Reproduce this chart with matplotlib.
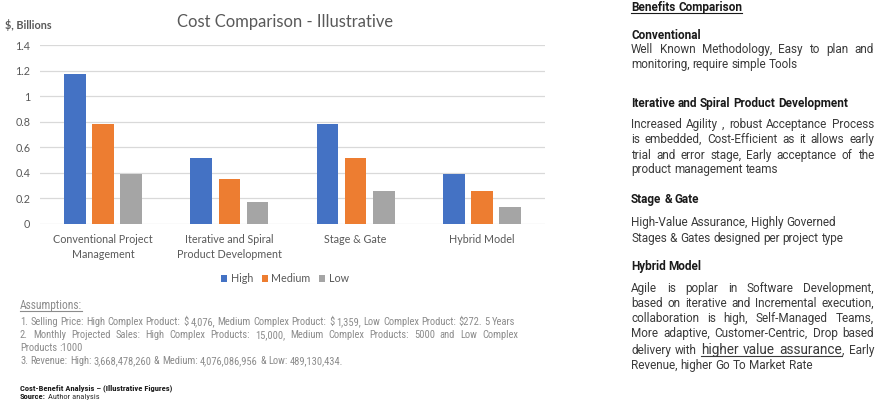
import matplotlib
matplotlib.use("Agg")
import matplotlib.pyplot as plt
import numpy as np
from matplotlib.lines import Line2D
from matplotlib.patches import Patch
from matplotlib import font_manager

# ---------------- data ----------------
categories = ["Conventional Project\nManagement", "Iterative and Spiral\nProduct Development",
              "Stage & Gate", "Hybrid Model"]
series_names = ["High", "Medium", "Low"]
high = [1.17, 0.52, 0.78, 0.39]
medium = [0.78, 0.35, 0.52, 0.26]
low = [0.39, 0.17, 0.26, 0.13]
yticks = [0, 0.2, 0.4, 0.6, 0.8, 1.0, 1.2, 1.4]
ytick_labels = ["0", "0.2", "0.4", "0.6", "0.8", "1", "1.2", "1.4"]
title = "Cost Comparison - Illustrative"
ylabel = "$, Billions"

# ---------------- figure ----------------
W, H = 882, 405
fig = plt.figure(figsize=(W / 100, H / 100), dpi=100)
fig.patch.set_facecolor("white")
renderer = fig.canvas.get_renderer()

def fx(px):
    return px / W

def fy(py):
    return 1 - py / H

def text_width(s, size, family, weight="normal"):
    t = fig.text(0, 0, s, fontsize=size, family=family, weight=weight)
    w = t.get_window_extent(renderer).width
    t.remove()
    return w

def fit(s, target, family, weight="normal"):
    return 10 * target / text_width(s, 10, family, weight)

def first_font(names, default):
    for n in names:
        try:
            font_manager.findfont(font_manager.FontProperties(family=n),
                                  fallback_to_default=False)
            return n
        except Exception:
            pass
    return default

CH = "Lato"
GREY = "#595959"

ax = fig.add_axes([fx(40), fy(224), fx(505), 179 / H])
x = np.arange(len(categories))
colors = ["#4472C4", "#ED7D31", "#A5A5A5"]
bw = 0.172
off = 0.222
for i, (vals, name, c) in enumerate(zip([high, medium, low], series_names, colors)):
    ax.bar(x + (i - 1) * off, vals, bw, color=c, label=name, zorder=3)
ax.set_xlim(-0.5, len(categories) - 0.5)
ax.set_ylim(0, 1.4)
ax.set_yticks(yticks)
tick_size = fit("Conventional Project", 100, CH)
ax.set_yticklabels(ytick_labels, fontsize=tick_size, family=CH, color=GREY)
ax.set_xticks(x)
ax.set_xticklabels(categories, fontsize=tick_size, family=CH, color=GREY, linespacing=1.5)
ax.grid(axis="y", color="#D9D9D9", lw=0.9, zorder=0)
for s in ax.spines.values():
    s.set_visible(False)
ax.tick_params(length=0, pad=7)

fig.text(fx(285), fy(22), title, ha="center", va="center",
         fontsize=fit(title, 216, CH), family=CH, color=GREY)
fig.text(fx(5), fy(25), ylabel, ha="left", va="center",
         fontsize=fit(ylabel, 47, CH, "bold"), family=CH, weight="bold", color=GREY)

handles = [Patch(facecolor=c, label=n) for c, n in zip(colors, series_names)]
fig.legend(handles=handles, loc="center", bbox_to_anchor=(fx(285), fy(279)), ncol=3,
           frameon=False, prop={"family": CH, "size": tick_size},
           handlelength=0.55, handleheight=0.55, handletextpad=0.35, columnspacing=0.8,
           labelcolor=GREY)

# ---------------- justified text helper ----------------
def place_line(segments, x0, base, x1=None, justify=False):
    """segments: list of (text, dict(size, family, weight, color, underline))"""
    words, glue = [], []
    for si, (txt, p) in enumerate(segments):
        first = True
        for w in txt.split(" "):
            if w:
                words.append((w, p))
                # a segment that starts right after the previous one without a space
                glue.append(si > 0 and first and not txt.startswith(" ")
                            and w[0] in ",.;:")
                first = False
    objs, widths = [], []
    for w, p in words:
        t = fig.text(0, fy(base), w, fontsize=p["size"], family=p["family"],
                     weight=p.get("weight", "normal"), color=p["color"],
                     ha="left", va="baseline")
        objs.append(t)
        widths.append(t.get_window_extent(renderer).width)
    n_gaps = sum(1 for k in range(1, len(words)) if not glue[k])
    p0 = words[0][1]
    space = (text_width("x x", p0["size"], p0["family"], p0.get("weight", "normal"))
             - text_width("xx", p0["size"], p0["family"], p0.get("weight", "normal")))
    if justify and n_gaps > 0:
        gap = (x1 - x0 - sum(widths)) / n_gaps
    else:
        gap = space
    cur = x0
    ul_start = None
    for k, ((w, p), t, wd) in enumerate(zip(words, objs, widths)):
        if k > 0 and not glue[k]:
            cur += gap
        t.set_x(fx(cur))
        if p.get("underline"):
            if ul_start is None:
                ul_start = cur
            ul_end = cur + wd
            nxt_ul = k + 1 < len(words) and words[k + 1][1].get("underline")
            if not nxt_ul:
                fig.add_artist(Line2D([fx(ul_start), fx(ul_end)],
                                      [fy(base + 2), fy(base + 2)],
                                      color=p["color"], lw=0.8))
                ul_start = None
        cur += wd

def paragraph(lines, x0, x1, baselines, prop, justify_all_but_last=True):
    for i, (ln, b) in enumerate(zip(lines, baselines)):
        segs = ln if isinstance(ln, list) else [(ln, prop)]
        j = justify_all_but_last and i < len(lines) - 1
        place_line(segs, x0, b, x1, justify=j)

# ---------------- right panel ----------------
RF = "Roboto"
body_size = fit("monitoring, require simple Tools", 169, RF)
head_size = fit("Iterative and Spiral Product Development", 217, RF, "bold")
body = dict(size=body_size, family=RF, color="#3a3a3a")
head = dict(size=head_size, family=RF, weight="bold", color="#1a1a1a")
XL, XR = 631, 874

place_line([("Benefits Comparison", dict(head, underline=True))], XL, 11)
place_line([("Conventional", head)], XL, 39)
paragraph(["Well Known Methodology, Easy to plan and",
           "monitoring, require simple Tools"], XL, XR, [53, 68], body)
place_line([("Iterative and Spiral Product Development", head)], XL, 107)
paragraph(["Increased Agility , robust Acceptance Process",
           "is embedded, Cost-Efficient as it allows early",
           "trial and error stage, Early acceptance of the",
           "product management teams"], XL, XR, [128, 143, 159, 173], body)
place_line([("Stage & Gate", head)], XL, 203)
paragraph(["High-Value Assurance, Highly Governed",
           "Stages & Gates designed per project type"], XL, XR, [226, 242], body,
          justify_all_but_last=False)
place_line([("Hybrid Model", head)], XL, 270)
big = dict(body, size=fit("higher value assurance", 140, RF), underline=True)
paragraph(["Agile is poplar in Software Development,",
           "based on iterative and Incremental execution,",
           "collaboration is high, Self-Managed Teams,",
           "More adaptive, Customer-Centric, Drop based",
           [("delivery with", body), ("higher value assurance", big), (", Early", body)],
           "Revenue, higher Go To Market Rate"], XL, XR,
          [292, 307, 322, 337, 354, 369], body)

# ---------------- assumptions ----------------
NF = first_font(["Roboto Condensed", "Liberation Sans Narrow"], RF)
AG = "#8c8c8c"
line1 = "1. Selling Price: High Complex Product:  $ 4,076, Medium Complex Product: $ 1,359, Low Complex Product: $272. 5 Years"
a_size = fit(line1, 498, NF)
aprop = dict(size=a_size, family=NF, color=AG)
place_line([("Assumptions:", dict(aprop, size=a_size * 1.1, underline=True))], 20, 309)
place_line([(line1, aprop)], 20, 325)
paragraph(["2. Monthly Projected Sales: High Complex Products: 15,000, Medium Complex Products: 5000 and Low Complex",
           "Products :1000"], 20, 518, [338, 351], aprop)
place_line([("3. Revenue: High: 3,668,478,260 & Medium: 4,076,086,956 & Low: 489,130,434.", aprop)], 20, 364)

sb_size = fit("Cost-Benefit Analysis – (Illustrative Figures)", 152, NF, "bold")
fig.text(fx(20), fy(390), "Cost-Benefit Analysis – (Illustrative Figures)", fontsize=sb_size,
         family=NF, weight="bold", color="#1a1a1a", va="baseline")
t = fig.text(fx(20), fy(399), "Source:", fontsize=sb_size, family=NF, weight="bold",
             color="#1a1a1a", va="baseline")
sw = t.get_window_extent(renderer).width
fig.text(fx(20 + sw + 2.5), fy(399), "Author analysis", fontsize=sb_size, family=NF,
         color="#333333", va="baseline")

fig.savefig("out.png", dpi=100, facecolor="white")
